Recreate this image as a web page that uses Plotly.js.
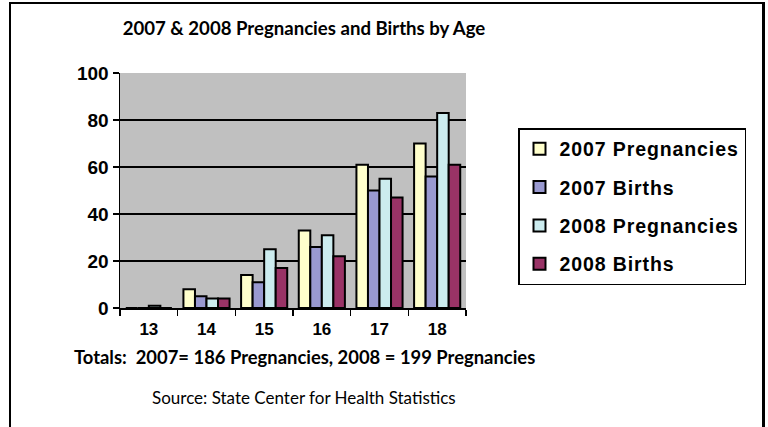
<!DOCTYPE html>
<html>
<head>
<meta charset="utf-8">
<script src="https://cdn.plot.ly/plotly-3.0.1.min.js"></script>
<style>
  html, body { margin: 0; padding: 0; background: #ffffff; }
  #wrap { position: relative; width: 768px; height: 427px; overflow: hidden; }
  #chart { width: 768px; height: 427px; }
  #frame { position: absolute; left: 9px; top: 2px; width: 751px; height: 440px;
           border-left: 2px solid #000; border-top: 2px solid #000; border-right: 3px solid #000;
           pointer-events: none; }
  .legendtext { letter-spacing: 0.9px; }
</style>
</head>
<body>
<div id="wrap">
  <div id="chart"></div>
  <div id="frame"></div>
</div>
<script>
const ages = ["13", "14", "15", "16", "17", "18"];
const preg2007 = [0, 8, 14, 33, 61, 70];
const births2007 = [0, 5, 11, 26, 50, 56];
const preg2008 = [1, 4, 25, 31, 55, 83];
const births2008 = [0, 4, 17, 22, 47, 61];
const seriesNames = ["2007 Pregnancies", "2007 Births", "2008 Pregnancies", "2008 Births"];
const seriesColors = ["#FFFFCC", "#9999D0", "#CCECEF", "#993366"];
const titleText = "2007 & 2008 Pregnancies and Births by Age";
const totalsText = "Totals:  2007= 186 Pregnancies, 2008 = 199 Pregnancies";
const sourceText = "Source: State Center for Health Statistics";

const seriesValues = [preg2007, births2007, preg2008, births2008];
const traces = seriesValues.map((vals, i) => ({
  type: "bar",
  x: ages,
  y: vals,
  name: seriesNames[i],
  legendgroup: "g" + i,
  marker: { color: seriesColors[i], line: { color: "#000000", width: 2 } },
  hoverinfo: "x+y+name"
}));

const gillLike = "Lato, 'Open Sans', 'DejaVu Sans', sans-serif";
const arialLike = "'Liberation Sans', Arial, sans-serif";

const layout = {
  width: 768,
  height: 427,
  margin: { l: 120, r: 302, t: 73, b: 119 },
  paper_bgcolor: "#ffffff",
  plot_bgcolor: "#C0C0C0",
  barmode: "group",
  bargap: 0.2,
  bargroupgap: 0,
  showlegend: true,
  title: {
    text: "<b>" + titleText + "</b>",
    font: { family: gillLike, size: 18.6, color: "#000" },
    x: 304 / 768, xanchor: "center",
    xref: "container", yref: "container",
    y: 1 - 28 / 427, yanchor: "middle"
  },
  xaxis: {
    type: "category",
    tickson: "boundaries",
    ticks: "outside",
    ticklen: 6,
    tickwidth: 1.5,
    tickcolor: "#000",
    ticklabelstandoff: 5,
    showline: true,
    linecolor: "#000",
    linewidth: 2,
    showgrid: false,
    tickfont: { family: arialLike, size: 17, color: "#000", weight: "bold" },
    fixedrange: true
  },
  yaxis: {
    range: [0, 100],
    dtick: 20,
    ticks: "outside",
    ticklen: 6,
    tickwidth: 1.5,
    tickcolor: "#000",
    showline: true,
    linecolor: "#000",
    linewidth: 1.5,
    showgrid: true,
    gridcolor: "#000",
    gridwidth: 1.5,
    zeroline: false,
    tickfont: { family: arialLike, size: 19, color: "#000", weight: "bold" },
    fixedrange: true
  },
  legend: {
    x: (518 - 120) / 346, xanchor: "left",
    y: (308 - 128) / 235, yanchor: "top",
    bgcolor: "#ffffff",
    bordercolor: "#000",
    borderwidth: 1.5,
    traceorder: "grouped",
    tracegroupgap: 10,
    itemwidth: 30,
    font: { family: arialLike, size: 19.5, color: "#000", weight: "bold" }
  },
  annotations: [
    {
      text: "<b>" + totalsText + "</b>",
      xref: "paper", yref: "paper",
      x: (304 - 120) / 346, y: (308 - 357) / 235,
      xanchor: "center", yanchor: "middle",
      showarrow: false,
      font: { family: gillLike, size: 18.4, color: "#000" }
    },
    {
      text: sourceText,
      xref: "paper", yref: "paper",
      x: (304 - 120) / 346, y: (308 - 397) / 235,
      xanchor: "center", yanchor: "middle",
      showarrow: false,
      font: { family: gillLike, size: 17, color: "#000" }
    }
  ]
};

Plotly.newPlot("chart", traces, layout, { displayModeBar: false, staticPlot: true });
</script>
</body>
</html>
